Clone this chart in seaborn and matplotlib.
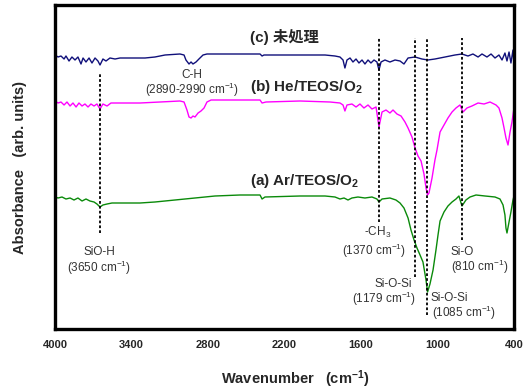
import numpy as np
import pandas as pd
import matplotlib
matplotlib.use("Agg")
import matplotlib.pyplot as plt
import seaborn as sns

# ---------------- data ----------------
wn_c = [4000, 3976, 3953, 3929, 3914, 3890, 3867, 3843, 3820, 3796, 3780, 3757, 3733, 3710, 3686, 3663,
        3647, 3624, 3600, 3569, 3529, 3490, 3412, 3294, 3216, 3137, 3020, 2988, 2973, 2949, 2933, 2918,
        2894, 2871, 2839, 2808, 2392, 2376, 2361, 2078, 1882, 1804, 1765, 1741, 1726, 1710, 1686, 1663,
        1639, 1616, 1592, 1569, 1545, 1522, 1498, 1475, 1459, 1443, 1412, 1373, 1333, 1294, 1263, 1231,
        1176, 1122, 1075, 1020, 941, 863, 808, 761, 722, 682, 651, 612, 580, 549, 518, 494, 471, 455,
        439, 424, 408, 400]
ab_c = [2.74, 2.72, 2.73, 2.70, 2.73, 2.68, 2.72, 2.69, 2.72, 2.65, 2.71, 2.67, 2.71, 2.66, 2.71, 2.68,
        2.64, 2.70, 2.68, 2.71, 2.70, 2.71, 2.71, 2.71, 2.72, 2.74, 2.75, 2.74, 2.69, 2.65, 2.67, 2.65,
        2.67, 2.70, 2.74, 2.75, 2.75, 2.73, 2.74, 2.74, 2.74, 2.73, 2.72, 2.69, 2.61, 2.69, 2.71, 2.67,
        2.70, 2.66, 2.69, 2.65, 2.69, 2.66, 2.69, 2.67, 2.59, 2.67, 2.69, 2.67, 2.69, 2.68, 2.65, 2.71,
        2.72, 2.70, 2.69, 2.70, 2.72, 2.74, 2.75, 2.73, 2.75, 2.72, 2.75, 2.72, 2.75, 2.71, 2.74, 2.69,
        2.76, 2.68, 2.77, 2.66, 2.79, 2.65]

wn_b = [4000, 3976, 3953, 3929, 3906, 3882, 3859, 3835, 3812, 3788, 3765, 3741, 3718, 3694, 3671, 3647,
        3624, 3592, 3561, 3490, 3333, 3176, 3020, 2988, 2965, 2949, 2933, 2918, 2902, 2878, 2855, 2831,
        2808, 2776, 2392, 2376, 2345, 2078, 1843, 1765, 1741, 1726, 1710, 1671, 1639, 1608, 1577, 1545,
        1514, 1482, 1459, 1435, 1404, 1373, 1349, 1318, 1286, 1255, 1231, 1200, 1176, 1153, 1129, 1106,
        1090, 1078, 1067, 1043, 1020, 1004, 980, 949, 918, 886, 855, 824, 800, 769, 730, 682, 635, 588,
        541, 518, 494, 478, 463, 447, 431, 416, 400]
ab_b = [2.28, 2.26, 2.27, 2.24, 2.27, 2.23, 2.26, 2.22, 2.26, 2.23, 2.25, 2.22, 2.25, 2.23, 2.25, 2.20,
        2.25, 2.23, 2.26, 2.26, 2.26, 2.27, 2.28, 2.27, 2.19, 2.12, 2.11, 2.13, 2.12, 2.16, 2.18, 2.21,
        2.27, 2.29, 2.29, 2.26, 2.27, 2.28, 2.27, 2.26, 2.24, 2.18, 2.24, 2.25, 2.22, 2.25, 2.21, 2.24,
        2.20, 2.22, 2.02, 2.17, 2.19, 2.16, 2.19, 2.15, 2.13, 2.07, 2.01, 1.92, 1.81, 1.73, 1.68, 1.55,
        1.41, 1.34, 1.36, 1.51, 1.69, 1.79, 1.97, 2.04, 2.11, 2.17, 2.21, 2.24, 2.17, 2.21, 2.23, 2.26,
        2.25, 2.27, 2.24, 2.21, 2.11, 2.01, 1.91, 1.84, 1.97, 2.07, 2.21]

wn_a = [4000, 3976, 3945, 3914, 3882, 3851, 3820, 3788, 3757, 3726, 3694, 3671, 3647, 3624, 3592, 3553,
        3451, 3333, 3216, 3059, 2902, 2745, 2549, 2392, 2376, 2353, 2078, 1882, 1804, 1765, 1733, 1702,
        1671, 1624, 1569, 1514, 1475, 1459, 1435, 1373, 1326, 1294, 1263, 1231, 1208, 1184, 1161, 1137,
        1114, 1090, 1078, 1059, 1035, 1012, 996, 980, 949, 918, 886, 855, 832, 808, 777, 745, 698, 627,
        549, 510, 486, 471, 463, 455, 439, 424, 408, 400]
ab_a = [1.32, 1.31, 1.32, 1.30, 1.31, 1.29, 1.31, 1.28, 1.30, 1.28, 1.27, 1.25, 1.22, 1.24, 1.25, 1.26,
        1.26, 1.26, 1.27, 1.29, 1.31, 1.33, 1.34, 1.34, 1.30, 1.32, 1.33, 1.33, 1.32, 1.30, 1.31, 1.29,
        1.31, 1.32, 1.31, 1.32, 1.30, 1.27, 1.30, 1.31, 1.29, 1.26, 1.21, 1.11, 0.99, 0.89, 0.81, 0.74,
        0.67, 0.49, 0.37, 0.45, 0.59, 0.79, 0.94, 1.08, 1.17, 1.23, 1.27, 1.30, 1.33, 1.23, 1.29, 1.32,
        1.34, 1.33, 1.32, 1.30, 1.24, 1.14, 1.01, 0.96, 1.07, 1.17, 1.29, 1.33]

series_names = ["(a) Ar/TEOS/O$_\\mathbf{2}$", "(b) He/TEOS/O$_\\mathbf{2}$", "(c) 未処理"]
series_colors = ["#0a8a0a", "#ff00ff", "#10107a"]

# marker lines (drawn position, ymin, ymax)
mark_pos = [3650, 1456, 1179, 1085, 810]
mark_ymin = [0.96, 1.07, 0.52, 0.14, 0.89]
mark_ymax = [2.56, 2.91, 2.91, 2.91, 2.91]

xticks = [4000, 3400, 2800, 2200, 1600, 1000, 400]

# ---------------- plotting ----------------
sns.set_style("white")
plt.rcParams['font.family'] = ['Liberation Sans', 'Noto Sans CJK JP', 'DejaVu Sans']
plt.rcParams['mathtext.fontset'] = 'custom'
plt.rcParams['mathtext.rm'] = 'Liberation Sans'
plt.rcParams['mathtext.it'] = 'Liberation Sans:italic'
plt.rcParams['mathtext.bf'] = 'Liberation Sans:bold'

df = pd.concat([
    pd.DataFrame({"wn": wn_a, "ab": ab_a, "s": series_names[0]}),
    pd.DataFrame({"wn": wn_b, "ab": ab_b, "s": series_names[1]}),
    pd.DataFrame({"wn": wn_c, "ab": ab_c, "s": series_names[2]}),
])

fig = plt.figure(figsize=(5.27, 3.89), dpi=100)
ax = fig.add_axes([55/527, 1-329/389, 459/527, 324/389])

sns.lineplot(data=df, x="wn", y="ab", hue="s", palette=dict(zip(series_names, series_colors)),
             estimator=None, sort=False, linewidth=1.0, legend=False, ax=ax)

for p, y0, y1 in zip(mark_pos, mark_ymin, mark_ymax):
    ax.plot([p, p], [y0, y1], color="black", linestyle=(0, (1.5, 1.2)), linewidth=1.3)

ax.set_xlim(4000, 400)
ax.set_ylim(0, 3.24)
ax.set_xticks(xticks)
ax.set_xticklabels([str(t) for t in xticks], fontweight="bold", fontsize=8)
ax.set_yticks([])
ax.tick_params(axis="x", direction="in", length=4, width=1.5, pad=8)

for sp in ax.spines.values():
    sp.set_visible(True)
    sp.set_linewidth(2.4)
    sp.set_color("black")

ax.set_xlabel("Wavenumber   (cm$^{\\mathbf{-1}}$)", fontweight="bold", fontsize=10.5)
ax.xaxis.set_label_coords(0.523, -0.122)
ax.set_ylabel("Absorbance   (arb. units)", fontweight="bold", fontsize=10.5)
ax.yaxis.set_label_coords(-0.06, 0.5)

# series labels
lab_font = dict(fontweight="bold", fontsize=11, ha="left", va="center")
ax.text(2471, 2.92, series_names[2], **lab_font)
ax.text(2471, 2.42, series_names[1], **lab_font)
ax.text(2471, 1.48, series_names[0], **lab_font)

# peak annotations
ann = dict(fontsize=8.5, color="#333333", va="center")
ax.text(2926, 2.54, "C-H", ha="center", **ann)
ax.text(2926, 2.39, "(2890-2990 cm$^{-1}$)", ha="center", **ann)
ax.text(3655, 0.77, "SiO-H", ha="center", **ann)
ax.text(3655, 0.61, "(3650 cm$^{-1}$)", ha="center", **ann)
ax.text(1467, 0.97, "-CH$_3$", ha="center", **ann)
ax.text(1498, 0.78, "(1370 cm$^{-1}$)", ha="center", **ann)
ax.text(1349, 0.45, "Si-O-Si", ha="center", **ann)
ax.text(1420, 0.30, "(1179 cm$^{-1}$)", ha="center", **ann)
ax.text(1051, 0.31, "Si-O-Si", ha="left", **ann)
ax.text(1046, 0.16, "(1085 cm$^{-1}$)", ha="left", **ann)
ax.text(896, 0.77, "Si-O", ha="left", **ann)
ax.text(896, 0.62, "(810 cm$^{-1}$)", ha="left", **ann)

fig.savefig("out.png", dpi=100)
